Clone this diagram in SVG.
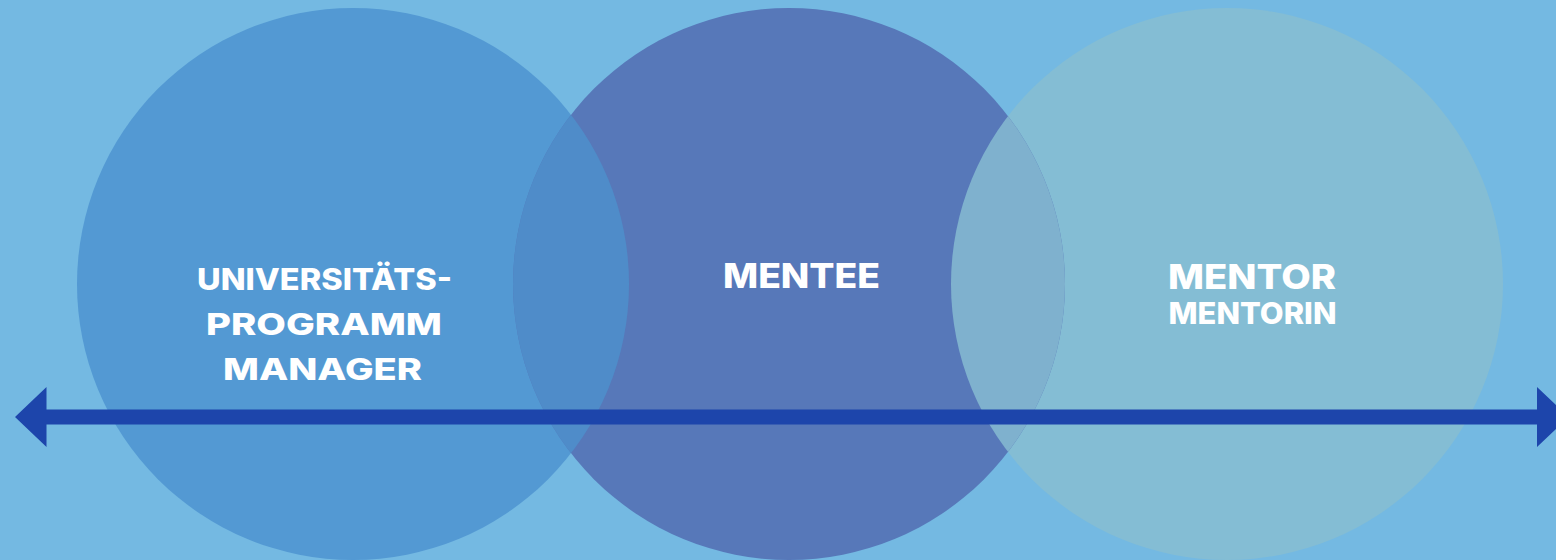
<svg xmlns="http://www.w3.org/2000/svg" width="1556" height="560" viewBox="0 0 1556 560">
  <style>
    .label { font-family: Inter, "Open Sans", "Liberation Sans", sans-serif; font-weight: 800; fill: #ffffff; text-anchor: middle; }
    .big { font-size: 34px; }
    .mid { font-size: 30px; }
  </style>
  <defs>
    <clipPath id="clip-left"><circle cx="353" cy="284" r="276"/></clipPath>
    <clipPath id="clip-right"><circle cx="1227" cy="284" r="276"/></clipPath>
  </defs>

  <rect width="1556" height="560" fill="#74B9E2"/>

  <g id="circle-program-manager">
    <circle cx="353" cy="284" r="276" fill="#5399D3"/>
  </g>
  <g id="circle-mentor">
    <circle cx="1227" cy="284" r="276" fill="#84BDD4"/>
  </g>
  <g id="circle-mentee">
    <circle cx="789" cy="284" r="276" fill="#5778B9"/>
    <!-- overlap lenses -->
    <circle cx="789" cy="284" r="276" fill="#4F8CC9" clip-path="url(#clip-left)"/>
    <circle cx="789" cy="284" r="276" fill="#7FB1CE" clip-path="url(#clip-right)"/>
  </g>

  <g id="label-program-manager">
    <text class="label mid" x="324.5" y="290" textLength="255" lengthAdjust="spacingAndGlyphs">UNIVERSITÄTS-</text>
    <text class="label mid" x="324" y="335" textLength="236" lengthAdjust="spacingAndGlyphs">PROGRAMM</text>
    <text class="label mid" x="322.5" y="380" textLength="199" lengthAdjust="spacingAndGlyphs">MANAGER</text>
  </g>
  <g id="label-mentee">
    <text class="label big" x="801.5" y="288" textLength="157" lengthAdjust="spacingAndGlyphs">MENTEE</text>
  </g>
  <g id="label-mentor">
    <text class="label big" x="1252" y="289" textLength="168" lengthAdjust="spacingAndGlyphs">MENTOR</text>
    <text class="label mid" x="1252.5" y="324" textLength="168" lengthAdjust="spacingAndGlyphs">MENTORIN</text>
  </g>

  <g id="connectors">
    <path d="M15 417 L46.5 387 L46.5 409.5 L1537 409.5 L1537 387 L1568.5 417 L1537 447 L1537 424.5 L46.5 424.5 L46.5 447 Z" fill="#1D45AB"/>
  </g>
</svg>
